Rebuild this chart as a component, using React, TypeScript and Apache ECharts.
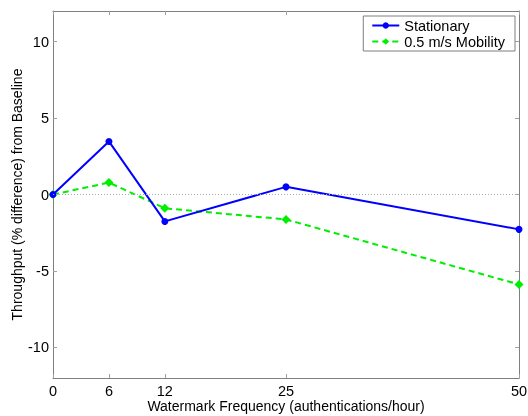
import React, { useEffect, useRef } from "react";
import * as echarts from "echarts";

const xTicks = [0, 6, 12, 25, 50];
const yTicks = [-10, -5, 0, 5, 10];
const freq = [0, 6, 12, 25, 50];
const stationary = [0, 3.47, -1.76, 0.5, -2.28];
const mobility = [0, 0.78, -0.9, -1.63, -5.88];
const seriesNames = ["Stationary", "0.5 m/s Mobility"];

const FONT = "Liberation Sans, Arial, sans-serif";
const AX = "#7f7f7f";
const TK = "#a0a0a0";
const FS = 14.5;

export default function App() {
  const ref = useRef<HTMLDivElement>(null);
  useEffect(() => {
    const chart = echarts.init(ref.current!, undefined, { renderer: "svg" });
    const xBase = {
      type: "value",
      min: 0,
      max: 50,
      axisLine: { show: true, onZero: false, lineStyle: { color: AX, width: 1 } },
      splitLine: { show: false },
    };
    const yBase = {
      type: "value",
      min: -12,
      max: 12,
      axisLine: { show: true, onZero: false, lineStyle: { color: AX, width: 1 } },
      splitLine: { show: false },
    };
    chart.setOption({
      animation: false,
      textStyle: { fontFamily: FONT },
      grid: {
        left: 53,
        right: 9,
        top: 11,
        bottom: 38,
        containLabel: false,
        outerBoundsMode: "none",
      },
      legend: {
        top: 16,
        right: 13,
        orient: "vertical",
        backgroundColor: "#fff",
        borderColor: AX,
        borderWidth: 1,
        borderRadius: 0,
        padding: [2, 10, 2, 8],
        itemGap: 1,
        itemWidth: 27,
        itemHeight: 8,
        textStyle: { fontSize: FS, color: "#000", fontFamily: FONT },
        data: seriesNames,
      },
      xAxis: [
        {
          ...xBase,
          position: "bottom",
          name: "Watermark Frequency (authentications/hour)",
          nameLocation: "middle",
          nameGap: 21,
          nameMoveOverlap: false,
          nameTextStyle: { fontSize: 14, color: "#000", fontFamily: FONT },
          axisTick: { show: true, inside: true, length: 4, customValues: xTicks, lineStyle: { color: TK } },
          axisLabel: { show: true, customValues: xTicks, fontSize: FS, color: "#000", margin: 5, fontFamily: FONT },
        },
        {
          ...xBase,
          position: "top",
          axisTick: { show: true, inside: true, length: 4, customValues: xTicks, lineStyle: { color: TK } },
          axisLabel: { show: false },
        },
      ],
      yAxis: [
        {
          ...yBase,
          position: "left",
          name: "Throughput (% difference) from Baseline",
          nameLocation: "middle",
          nameGap: 29,
          nameMoveOverlap: false,
          nameTextStyle: { fontSize: 14, color: "#000", fontFamily: FONT },
          axisTick: { show: true, inside: true, length: 4, customValues: yTicks, lineStyle: { color: TK } },
          axisLabel: { show: true, customValues: yTicks, fontSize: FS, color: "#000", margin: 4, fontFamily: FONT },
        },
        {
          ...yBase,
          position: "right",
          axisTick: { show: true, inside: true, length: 4, customValues: yTicks, lineStyle: { color: TK } },
          axisLabel: { show: false },
        },
      ],
      series: [
        {
          name: seriesNames[0],
          type: "line",
          data: freq.map((f, i) => [f, stationary[i]]),
          symbol: "circle",
          symbolSize: 7,
          lineStyle: { color: "#0000ff", width: 2 },
          itemStyle: { color: "#0000ff" },
          z: 3,
          markLine: {
            silent: true,
            symbol: "none",
            label: { show: false },
            lineStyle: { color: "#aaa", type: [1, 2], width: 1 },
            data: [[{ coord: [0, 0] }, { coord: [50, 0] }]],
          },
        },
        {
          name: seriesNames[1],
          type: "line",
          data: freq.map((f, i) => [f, mobility[i]]),
          symbol: "diamond",
          symbolSize: 9,
          lineStyle: { color: "#00ee00", width: 2, type: [6, 4] },
          itemStyle: { color: "#00ee00" },
          z: 2,
        },
      ],
    });
    return () => chart.dispose();
  }, []);
  return (
    <div
      ref={ref}
      style={{ position: "fixed", left: 0, top: 0, width: 528, height: 416 }}
    />
  );
}
